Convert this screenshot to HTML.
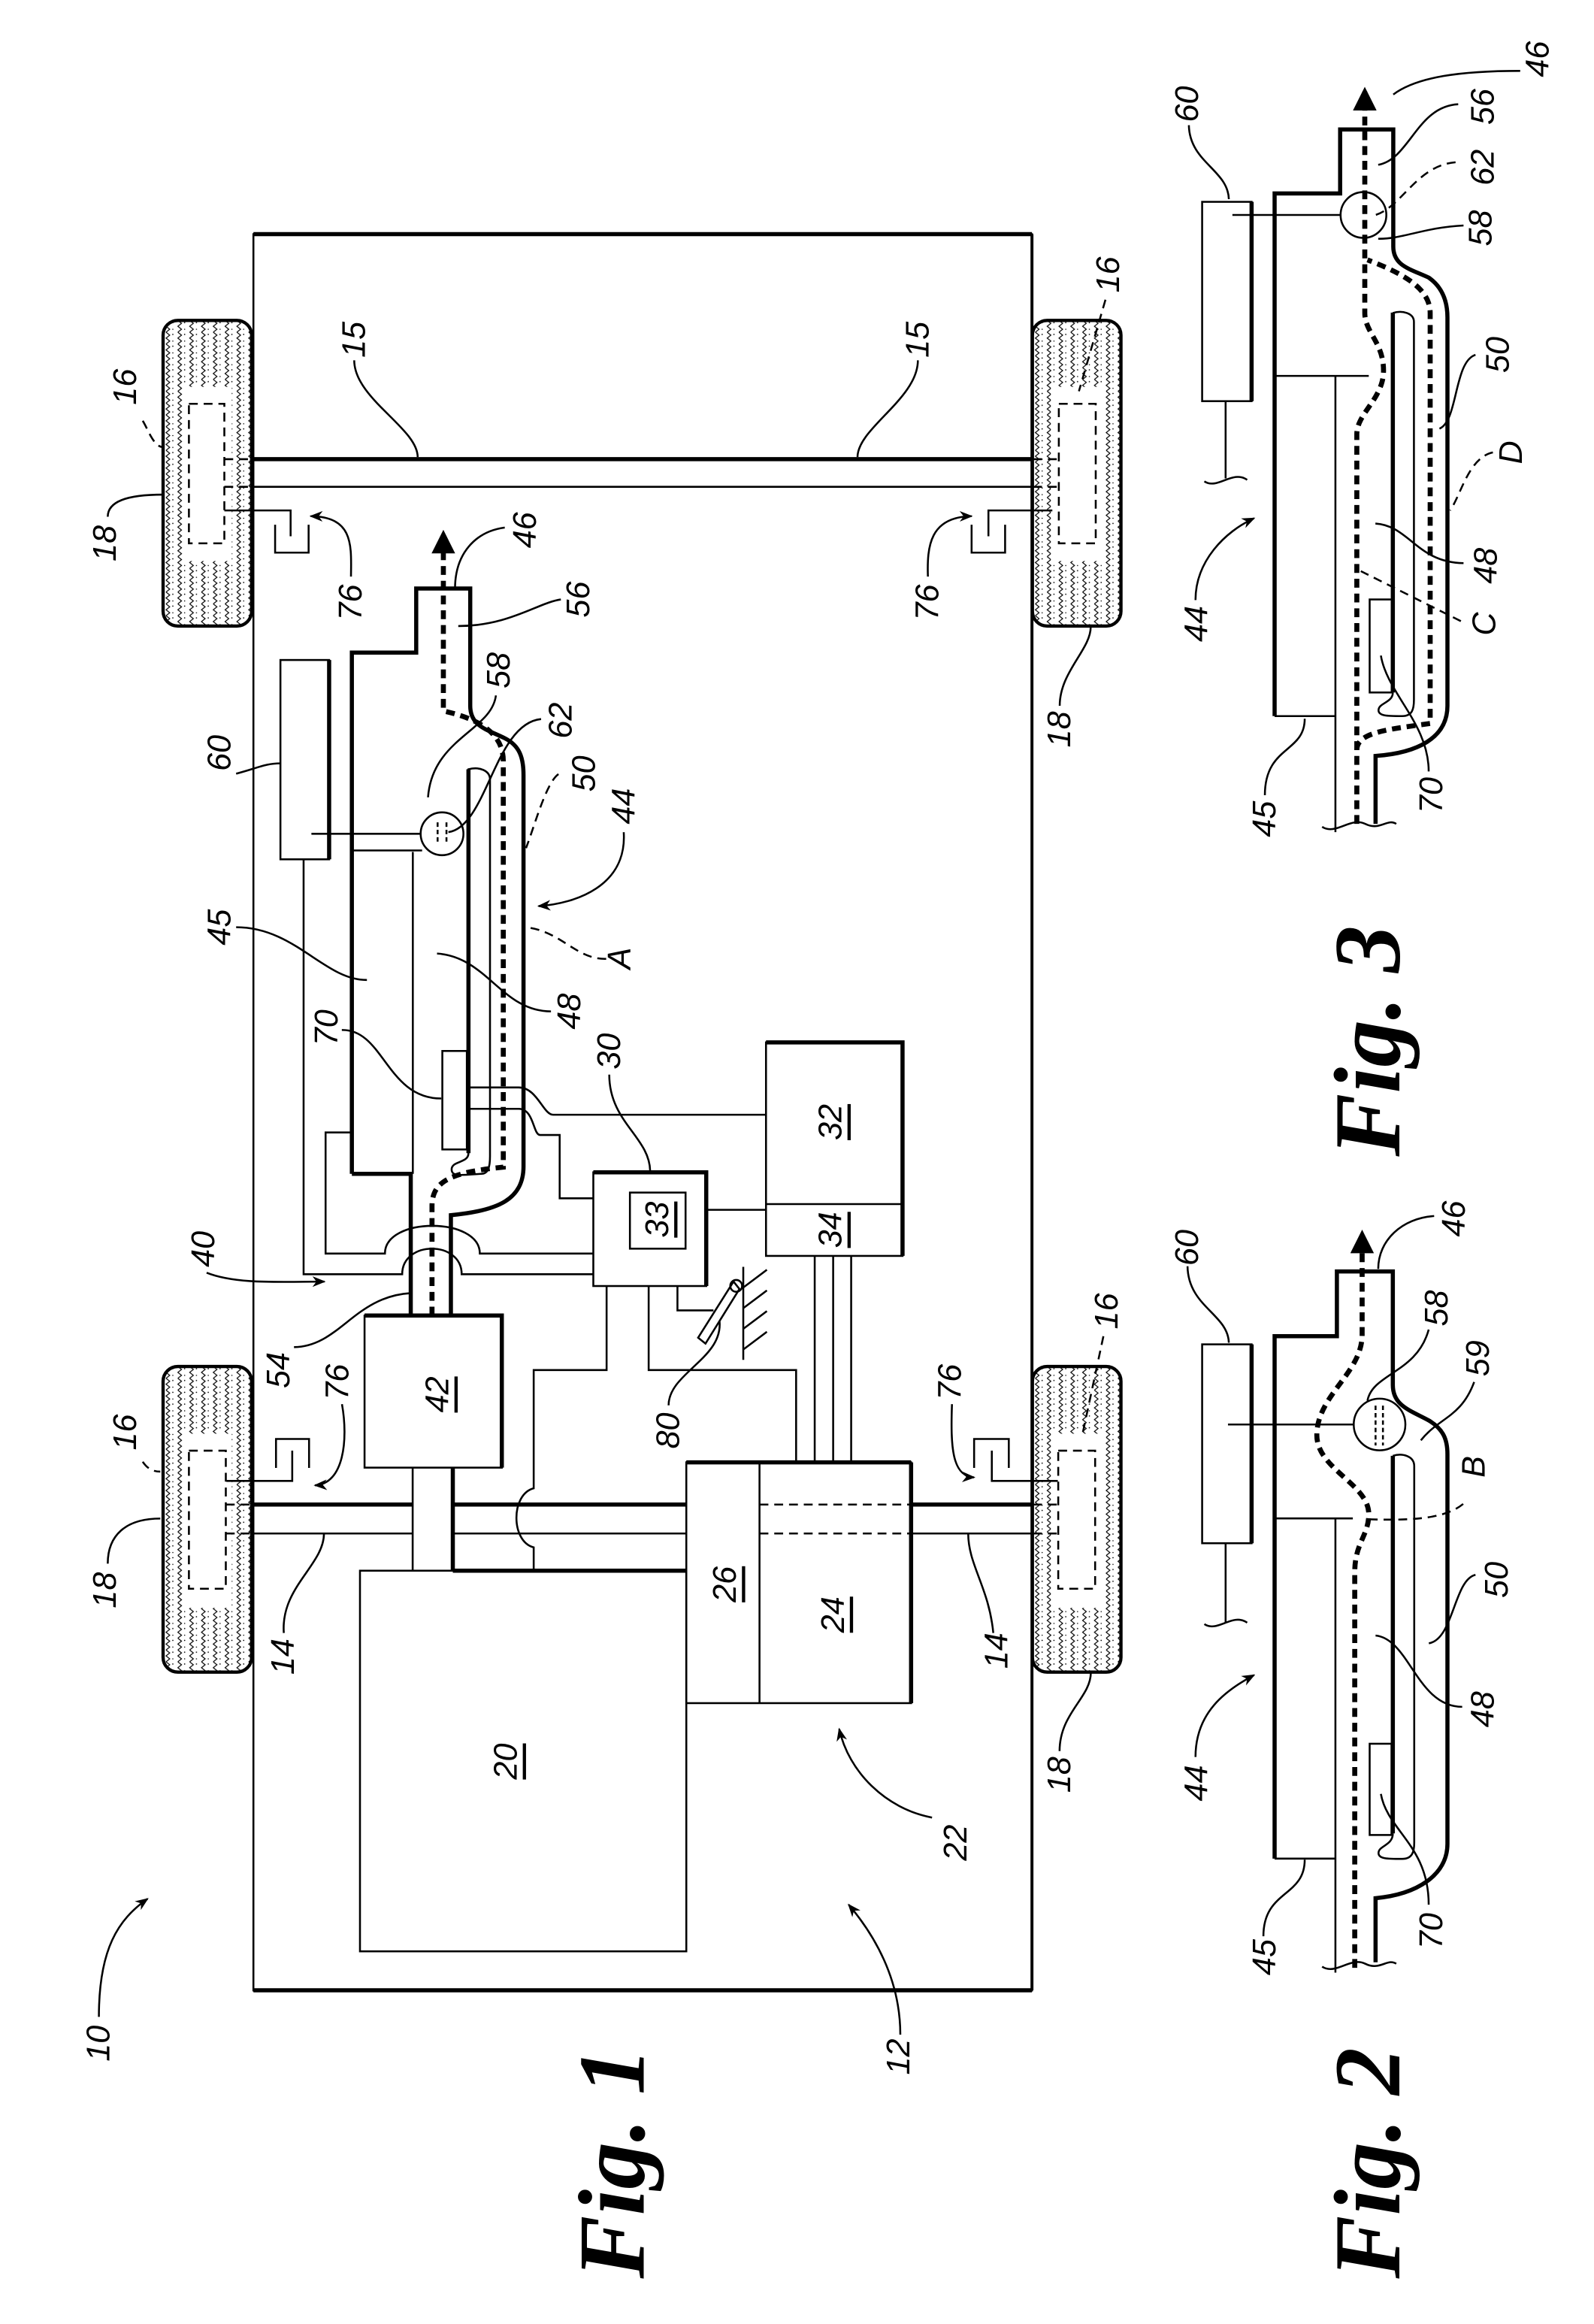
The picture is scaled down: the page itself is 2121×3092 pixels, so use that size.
<!DOCTYPE html>
<html><head><meta charset="utf-8"><style>
html,body{margin:0;padding:0;background:#fff}
svg{display:block}
text{font-family:"Liberation Sans",sans-serif;font-style:italic;font-size:22px;text-anchor:middle;dominant-baseline:central;fill:#000}
.u{text-decoration:underline}
.fig{font-family:"Liberation Serif",serif;font-weight:bold;font-style:italic;font-size:64px}
.t{fill:none;stroke:#000;stroke-width:1.3}
.k{fill:none;stroke:#000;stroke-width:2.8}
.d{fill:none;stroke:#000;stroke-width:1.3;stroke-dasharray:6 4}
.f{fill:none;stroke:#000;stroke-width:3.4;stroke-dasharray:6 4}
</style></head><body>
<svg width="2121" height="3092" viewBox="0 0 1080 1574" preserveAspectRatio="none" xmlns="http://www.w3.org/2000/svg">
<defs>
<marker id="a" viewBox="0 0 10 10" refX="9" refY="5" markerWidth="9" markerHeight="9" orient="auto" markerUnits="userSpaceOnUse"><path d="M0,1 L10,5 L0,9 L3,5 Z" fill="#000"/></marker>
<marker id="b" viewBox="0 0 10 10" refX="8" refY="5" markerWidth="16" markerHeight="16" orient="auto" markerUnits="userSpaceOnUse"><path d="M0,0 L10,5 L0,10 Z" fill="#000"/></marker>
<pattern id="tr" width="8" height="8" patternUnits="userSpaceOnUse">
<polyline points="2,0 4.5,2 2,4 4.5,6 2,8" fill="none" stroke="#000" stroke-width="0.6"/>
<circle cx="6.6" cy="1.5" r="0.45"/><circle cx="6.6" cy="6" r="0.4"/>
</pattern>
<g id="wheel">
<rect x="0" y="0" width="60" height="207" rx="10" fill="url(#tr)" stroke="#000" stroke-width="2.2"/>
</g>
</defs>
<rect width="1080" height="1574" fill="#fff"/>

<!-- ===== FIG 1 ===== -->
<use href="#wheel" x="110.5" y="217"/>
<use href="#wheel" x="699.5" y="217"/>
<use href="#wheel" x="110.5" y="925.5"/>
<use href="#wheel" x="699.5" y="925.5"/>
<rect x="124" y="262" width="33" height="118" fill="#fff"/>
<rect x="712" y="262" width="35" height="118" fill="#fff"/>
<rect x="124" y="971" width="33" height="118" fill="#fff"/>
<rect x="712" y="971" width="35" height="118" fill="#fff"/>
<rect x="128" y="273.5" width="24" height="94.5" class="d"/>
<rect x="717.4" y="273.5" width="25" height="94.5" class="d"/>
<rect x="128" y="982.5" width="25" height="93.5" class="d"/>
<rect x="717" y="982.5" width="25" height="93.5" class="d"/>

<rect x="171.7" y="158.6" width="527.5" height="1189.5" class="t"/>
<line x1="171.7" y1="158.6" x2="699.2" y2="158.6" class="k"/>
<line x1="171.7" y1="1348" x2="699.2" y2="1348" class="k"/>
<line x1="699.2" y1="158.6" x2="699.2" y2="1348" stroke="#000" stroke-width="2"/>

<line x1="171.7" y1="311" x2="699.2" y2="311" class="k"/>
<line x1="171.7" y1="329.7" x2="699.2" y2="329.7" class="t" stroke-width="1.8"/>
<path d="M152,311 H170 M152,329.7 H170 M700,311 H717 M700,329.7 H717" class="d"/>
<path d="M171.7,1019 H279.6 M306.8,1019 H465 M617.3,1019 H699" class="k"/>
<path d="M171.7,1038.6 H279.6 M306.8,1038.6 H465 M617.3,1038.6 H699" class="t" stroke-width="1.8"/>
<path d="M514.6,1019 H617.3 M514.6,1038.6 H617.3" class="d"/>
<path d="M153,1019 H170 M153,1038.6 H170 M700,1019 H717 M700,1038.6 H717" class="d"/>

<path d="M152,345.7 H196.9 V363.2 M186.4,355.4 V374.3 H209.1 V355.4" class="t" stroke-width="1.8"/>
<path d="M713,345.7 H669.7 V363.2 M658.3,355.4 V374.3 H681 V355.4" class="t" stroke-width="1.8"/>
<path d="M153.4,1003 H198 V982.5 M187,994.2 V974.6 H209.4 V994.2" class="t" stroke-width="1.8"/>
<path d="M716.7,1003 H672 V982.5 M660,994.2 V974.6 H683.5 V994.2" class="t" stroke-width="1.8"/>

<rect x="243.9" y="1063.8" width="221.1" height="257.8" class="t" stroke-width="1.8"/>
<line x1="306.8" y1="1063.8" x2="465" y2="1063.8" class="k"/>
<rect x="465" y="990.4" width="152.3" height="163.1" class="t" stroke-width="1.8"/>
<line x1="465" y1="990.4" x2="617.3" y2="990.4" class="k"/>
<line x1="617.3" y1="990.4" x2="617.3" y2="1153.5" class="k"/>
<line x1="514.6" y1="990.4" x2="514.6" y2="1153.5" class="t"/>
<rect x="247" y="891" width="93" height="103" class="t" stroke-width="1.8"/>
<path d="M247,891 H340 V994" class="k"/>
<path d="M279.6,994 V1063.8 M306.8,994 V1063.8" class="t" stroke-width="1.8"/>
<line x1="306.8" y1="994" x2="306.8" y2="1063.8" class="k"/>

<path d="M238.4,795 L238.4,442 L282,442 L282,398.6 L318.6,398.6 L318.6,478 C318.6,492 330,494 342,500 C352,505 354.7,513 354.7,525 L354.7,790 C354.7,812 338,820 305.5,823 L305.5,891" class="k"/>
<path d="M238.4,795 L278.3,795 L278.3,891" class="k"/>
<line x1="279.7" y1="577" x2="279.7" y2="795" class="t"/>
<line x1="238.4" y1="576" x2="286" y2="576" class="t"/>
<path d="M317.4,781 C317.4,788 306,786 306,792 C306,797 312,796 326,795 C331,795 332,790 332,783 L332,528 C332,522 325,519 317.4,521 Z" class="t" stroke-width="2"/>
<line x1="317.4" y1="521" x2="317.4" y2="781" class="k"/>
<rect x="299.7" y="711.8" width="16.6" height="66.7" class="t" fill="#fff"/>
<circle cx="299.5" cy="564.7" r="14.5" class="t" fill="#fff"/>
<path d="M296.5,557 V572 M302.5,557 V572" class="t" stroke-dasharray="3 2" stroke-width="1.6"/>
<path d="M292.7,891 L292.7,817 C292.7,800 305,794 341,790.5 L341,515.4 C341,500 330,488 300.4,481.5 L300.4,362" class="f" marker-end="url(#b)"/>

<rect x="190" y="447" width="33" height="135" class="t" stroke-width="1.6"/>
<line x1="223" y1="447" x2="223" y2="582" class="k"/>
<line x1="211" y1="564.7" x2="285" y2="564.7" class="t"/>
<path d="M205.7,582 L205.7,863 L272.5,863 C272.5,840 312.8,840 312.8,863 L402,863" class="t"/>
<path d="M238.4,767 L220.6,767 L220.6,849 L260.8,849 C260.8,824 325.1,824 325.1,849 L402,849" class="t"/>
<path d="M316.3,736.5 L351.4,736.5 C364,736.5 368,755 374.8,755 L519,755" class="t"/>
<path d="M316.3,751 L351.4,751 C362,751 361,768.7 366,768.7 L379.2,768.7 L379.2,811.6 L402,811.6" class="t"/>
<line x1="478.5" y1="819.4" x2="519" y2="819.4" class="t"/>

<rect x="402" y="794" width="76.5" height="77" class="t" stroke-width="1.6"/>
<path d="M402,794 H478.5 V871" class="k"/>
<rect x="426.8" y="807.7" width="37.7" height="38" class="t" stroke-width="1.6"/>
<rect x="519" y="706" width="92.5" height="144.6" class="t" stroke-width="1.6"/>
<path d="M519,706 H611.5 V850.6" class="k"/>
<line x1="519" y1="815.5" x2="611.5" y2="815.5" class="t"/>
<path d="M411,871 V927.9 H361.6 V1008 C346,1012 346,1044 361.6,1048 V1063.8" class="t"/>
<path d="M439.5,871 V927.9 H539.4 V990.4" class="t"/>
<path d="M459,871 V887.5 H483.4" class="t" stroke-width="2"/>
<path d="M552,850.6 V990.4 M564.5,850.6 V990.4 M576.7,850.6 V990.4" class="t"/>
<line x1="503.6" y1="858" x2="503.6" y2="921" class="t" stroke-width="1.6"/>
<path d="M503.6,872 l16,-12 M503.6,886 l16,-12 M503.6,900 l16,-12 M503.6,914 l16,-12" class="t"/>
<path d="M497,868 L473,906 L478,910 L501,873 Z" class="t" fill="#fff"/>
<circle cx="498.8" cy="870.9" r="4" class="t" fill="#fff"/>

<path d="M67,1366 C67,1320 80,1300 100,1286" class="t" marker-end="url(#a)"/>
<path d="M610,1378 C610,1340 592,1310 575,1290" class="t" marker-end="url(#a)"/>
<path d="M631.5,1231 C600,1225 575,1200 568.6,1171" class="t" marker-end="url(#a)"/>
<path d="M192.3,1106 C190,1075 219.5,1060 219.5,1038.6" class="t"/>
<path d="M673,1106 C670,1075 656,1060 656,1038.6" class="t"/>
<path d="M231.7,951 C236,975 233,1005 213.4,1006" class="t" marker-end="url(#a)"/>
<path d="M645,951 C644,980 645,1000 660,1000.6" class="t" marker-end="url(#a)"/>
<path d="M199.2,912.4 C230,912 240,878 278.4,875.8" class="t"/>
<path d="M453,951.8 C453,930 490,920 487.5,894.8" class="t"/>
<path d="M140,862 C160,870 190,868 219.8,868" class="t" marker-end="url(#a)"/>
<path d="M96.7,990 C100,995 104,996.7 108.6,996.7" class="d"/>
<path d="M73,1059 C73,1040 85,1028.5 108.6,1028.5" class="t"/>
<path d="M747.6,905 L733.2,972.4" class="d"/>
<path d="M717.9,1186 C718,1160 739,1150 739.1,1132.7" class="t"/>
<path d="M96.7,285 C100,290 104,302.8 110.5,302.8" class="d"/>
<path d="M73,350 C73,340 85,335 110.5,335" class="t"/>
<path d="M749,203 L731,265" class="d"/>
<path d="M718,478 C718,455 739,440 739,424.6" class="t"/>
<path d="M240,244 C240,270 283,290 283,309.6" class="t"/>
<path d="M621.9,244 C621.9,270 581,290 581,309.6" class="t"/>
<path d="M237.8,390.5 C238,370 240,350 210.5,349.6" class="t" marker-end="url(#a)"/>
<path d="M628.7,390.5 C628,370 630,350 658.3,349.6" class="t" marker-end="url(#a)"/>
<path d="M342,357.3 C322,360 308.3,375 308.3,398.7" class="t"/>
<path d="M380,406 C365,408 345,424 310.5,424" class="t"/>
<path d="M336,471 C333,495 293,500 290,540" class="t"/>
<path d="M366.6,487 C335,490 330,560 303.8,563.6" class="t"/>
<path d="M378.4,524.3 C370,530 362,560 356.4,574.4" class="d"/>
<path d="M422.6,563.6 C425,600 390,612 364.9,613.7" class="t" marker-end="url(#a)"/>
<path d="M410.7,649.4 C390,650 380,630 355.5,628" class="d"/>
<path d="M373.3,685 C340,685 330,648 296.1,645.8" class="t"/>
<path d="M412.8,727.8 C412.8,760 440,770 440.5,793" class="t"/>
<path d="M231.6,697.6 C260,697 262,744 299,744" class="t"/>
<path d="M160,628 C200,628 220,664 248.6,663.7" class="t"/>
<path d="M160,524 C175,520 180,517 190,517" class="t"/>

<text transform="translate(67,1384) rotate(-90)">10</text>
<text transform="translate(609,1393) rotate(-90)">12</text>
<text transform="translate(647.7,1248) rotate(-90)">22</text>
<text class="u" transform="translate(343,1193) rotate(-90)">20</text>
<text class="u" transform="translate(491.5,1073) rotate(-90)">26</text>
<text class="u" transform="translate(564.6,1093.6) rotate(-90)">24</text>
<text class="u" transform="translate(296.7,944.5) rotate(-90)">42</text>
<text class="u" transform="translate(445.6,826) rotate(-90)">33</text>
<text class="u" transform="translate(563,760) rotate(-90)">32</text>
<text class="u" transform="translate(563,833) rotate(-90)">34</text>
<text transform="translate(192,1122) rotate(-90)">14</text>
<text transform="translate(675.5,1118) rotate(-90)">14</text>
<text transform="translate(229,936) rotate(-90)">76</text>
<text transform="translate(644,936) rotate(-90)">76</text>
<text transform="translate(237.8,408) rotate(-90)">76</text>
<text transform="translate(628.7,408) rotate(-90)">76</text>
<text transform="translate(189,928) rotate(-90)">54</text>
<text transform="translate(453,969) rotate(-90)">80</text>
<text transform="translate(138,846) rotate(-90)">40</text>
<text transform="translate(85,970) rotate(-90)">16</text>
<text transform="translate(71.3,1077) rotate(-90)">18</text>
<text transform="translate(750,888) rotate(-90)">16</text>
<text transform="translate(718,1202) rotate(-90)">18</text>
<text transform="translate(85,262) rotate(-90)">16</text>
<text transform="translate(71.3,368) rotate(-90)">18</text>
<text transform="translate(751,186) rotate(-90)">16</text>
<text transform="translate(718,494) rotate(-90)">18</text>
<text transform="translate(240,230) rotate(-90)">15</text>
<text transform="translate(621.9,230) rotate(-90)">15</text>
<text transform="translate(356,359) rotate(-90)">46</text>
<text transform="translate(392,406) rotate(-90)">56</text>
<text transform="translate(338,454) rotate(-90)">58</text>
<text transform="translate(380,488) rotate(-90)">62</text>
<text transform="translate(396,524) rotate(-90)">50</text>
<text transform="translate(423,546) rotate(-90)">44</text>
<text transform="translate(420,649) rotate(-90)">A</text>
<text transform="translate(386,685) rotate(-90)">48</text>
<text transform="translate(413,712) rotate(-90)">30</text>
<text transform="translate(221.5,696) rotate(-90)">70</text>
<text transform="translate(149,628) rotate(-90)">45</text>
<text transform="translate(149,510) rotate(-90)">60</text>
<text class="fig" transform="translate(415,1465) rotate(-90)">Fig. 1</text>

<!-- ===== FIG 3 ===== -->
<rect x="814.5" y="136.7" width="33.5" height="135" class="t" stroke-width="1.6"/>
<line x1="848" y1="136.7" x2="848" y2="271.7" class="k"/>
<path d="M830.4,271.7 V324 M816,326 C825,332 835,318 845,325" class="t"/>
<line x1="835" y1="145.6" x2="908" y2="145.6" class="t"/>
<path d="M863.6,485 L863.6,131 L908,131 L908,87.7 L944,87.7 L944,167 C944,180 955,182 968,188 C978,195 980.7,205 980.7,215 L980.7,478 C980.7,500 960,510 932,512 L932,558" class="k"/>
<path d="M863.6,485 H904.8 M904.8,254.6 V563.6 M863.6,254.6 H927.4" class="t"/>
<path d="M943.7,469 C943.7,476 934,476 934,481 C934,485 940,485 950,485 C957,485 958,480 958,474 L958,218 C958,212 950,210 943.7,212" class="t" stroke-width="2"/>
<line x1="943.7" y1="211.7" x2="943.7" y2="469" class="k"/>
<rect x="928" y="406" width="15" height="63" class="t"/>
<circle cx="923.8" cy="145.6" r="15.5" class="t"/>
<path d="M919.3,558 L919.3,294 C919.3,280 937.4,270 937.4,251 C937.4,232 924.7,225 924.7,212 L924.7,62" class="f" marker-end="url(#b)"/>
<path d="M919.3,508 C919.3,496 940,494 969,490 L969,212 C969,195 950,185 926.5,176" class="f"/>
<path d="M895.8,560 C905,566 915,553 925,558 C935,563 940,554 946,558" class="t"/>
<path d="M805.5,84.8 C806,110 832,115 832.6,134.9" class="t"/>
<path d="M1030,48 C990,48 960,52 944,64" class="t"/>
<path d="M988,70.6 C960,72 955,108 933.8,111.6" class="t"/>
<path d="M986.2,109.9 C960,112 950,140 932,145.6" class="d"/>
<path d="M991.6,152.7 C965,154 950,162 933.8,161.7" class="t"/>
<path d="M999.7,240.3 C985,245 988,285 975.3,290.3" class="t"/>
<path d="M1011.5,306.4 C995,310 990,335 982.5,345.7" class="d"/>
<path d="M991.6,381.4 C960,381 955,356 931.9,354.6" class="t"/>
<path d="M989.8,420.7 L922,386.8" class="d"/>
<path d="M968,522.5 C968,490 940,470 935.6,444" class="t"/>
<path d="M857,538.6 C857,505 884,510 884,486.8" class="t"/>
<path d="M810,406.4 C810,380 830,360 849.7,351" class="t" marker-end="url(#a)"/>
<text transform="translate(804.6,70.5) rotate(-90)">60</text>
<text transform="translate(1042,40) rotate(-90)">46</text>
<text transform="translate(1005,72.3) rotate(-90)">56</text>
<text transform="translate(1005,113.4) rotate(-90)">62</text>
<text transform="translate(1003.3,154.5) rotate(-90)">58</text>
<text transform="translate(1015,240.3) rotate(-90)">50</text>
<text transform="translate(1024,306.4) rotate(-90)">D</text>
<text transform="translate(1007,383.2) rotate(-90)">48</text>
<text transform="translate(1006,422.5) rotate(-90)">C</text>
<text transform="translate(969.9,538.6) rotate(-90)">70</text>
<text transform="translate(857,554.7) rotate(-90)">45</text>
<text transform="translate(810.9,422.5) rotate(-90)">44</text>
<text class="fig" transform="translate(927,705) rotate(-90)">Fig. 3</text>

<!-- ===== FIG 2 ===== -->
<rect x="814.5" y="910.5" width="33.5" height="134.7" class="t" stroke-width="1.6"/>
<line x1="848" y1="910.5" x2="848" y2="1045.2" class="k"/>
<path d="M830.4,1045.2 V1098.7 M816,1100 C825,1106 835,1092 845,1099" class="t"/>
<line x1="832" y1="964.8" x2="917" y2="964.8" class="t"/>
<path d="M863.6,1258.8 L863.6,905 L905.8,905 L905.8,861.1 L943.7,861.1 L943.7,938 C943.7,952 955,955 968,962 C978,968 980.7,975 980.7,985 L980.7,1248.8 C980.7,1270 960,1283 932,1285.6 L932,1329" class="k"/>
<path d="M863.6,1258.8 H904.8 M904.8,1028.4 V1336 M863.6,1028.4 H916.6" class="t"/>
<path d="M943.7,1241.7 C943.7,1250 934,1250 934,1255 C934,1259 940,1259 950,1259 C957,1259 958.2,1254 958.2,1248 L958.2,993 C958.2,986 950,984 943.7,986" class="t" stroke-width="2"/>
<line x1="943.7" y1="986" x2="943.7" y2="1241.7" class="k"/>
<rect x="928" y="1181" width="14.8" height="61.8" class="t"/>
<circle cx="934.7" cy="964.8" r="17.5" class="t"/>
<path d="M932,952 V979 M937,952 V979" class="t" stroke-dasharray="3 2" stroke-width="1.6"/>
<path d="M917.9,1332.8 L917.9,1064.8 C917.9,1045 927.4,1040 927.4,1025.5 C927.4,1005 892.2,995 892.2,972 C892.2,945 922.9,930 922.9,904 L922.9,836" class="f" marker-end="url(#b)"/>
<path d="M895.8,1332 C905,1338 915,1325 925,1330 C935,1335 940,1326 946,1330" class="t"/>
<path d="M927.4,1029 C960,1030 980,1028 991.6,1018.4" class="d"/>
<path d="M804.6,857.6 C805,885 832,890 832.6,909.4" class="t"/>
<path d="M971.7,823.6 C950,825 933.8,840 933.8,859.4" class="t"/>
<path d="M968,900.5 C960,930 930,930 926.5,948.7" class="t"/>
<path d="M998.8,936 C990,960 975,960 962.7,975.5" class="t"/>
<path d="M999.7,1066.6 C985,1070 985,1110 968.1,1113" class="t"/>
<path d="M990.7,1156 C960,1156 955,1110 932,1107.7" class="t"/>
<path d="M968,1290 C968,1250 940,1240 935.6,1215" class="t"/>
<path d="M856,1311.4 C856,1280 884,1285 884,1259.5" class="t"/>
<path d="M810,1190 C810,1160 830,1145 849.7,1134.5" class="t" marker-end="url(#a)"/>
<text transform="translate(804.6,845) rotate(-90)">60</text>
<text transform="translate(985.2,825.4) rotate(-90)">46</text>
<text transform="translate(973.5,886) rotate(-90)">58</text>
<text transform="translate(1001.5,920) rotate(-90)">59</text>
<text transform="translate(998.8,993.4) rotate(-90)">B</text>
<text transform="translate(1014.2,1070) rotate(-90)">50</text>
<text transform="translate(1005,1157.7) rotate(-90)">48</text>
<text transform="translate(969.9,1307.8) rotate(-90)">70</text>
<text transform="translate(857,1325.6) rotate(-90)">45</text>
<text transform="translate(810.9,1207.7) rotate(-90)">44</text>
<text class="fig" transform="translate(927,1465) rotate(-90)">Fig. 2</text>
</svg>
</body></html>
